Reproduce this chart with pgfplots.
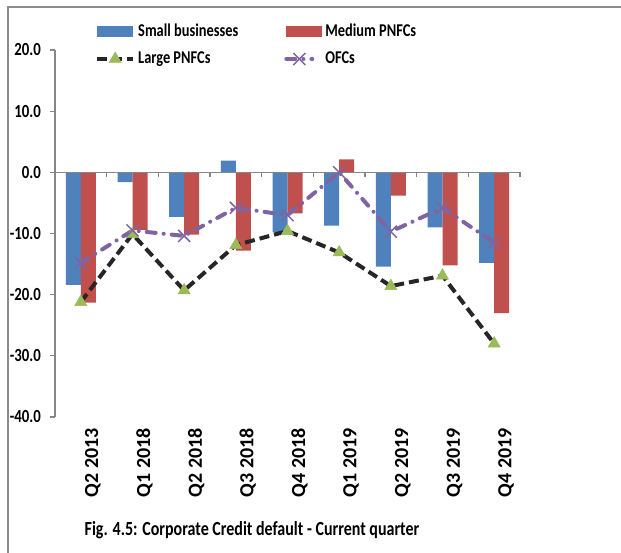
\documentclass[border=0pt]{standalone}
\usepackage{fontspec}
\setmainfont{Carlito}[FakeStretch=0.8]
\newfontfamily\xlabfont{Carlito}
\usepackage{pgfplots}
\pgfplotsset{compat=1.18}
\definecolor{cblue}{HTML}{4F81BD}
\definecolor{cred}{HTML}{C0504D}
\definecolor{cgreen}{HTML}{9BBB59}
\definecolor{cpurple}{HTML}{8064A2}
\definecolor{cblack}{HTML}{262626}
\definecolor{axisgray}{HTML}{868686}
\definecolor{framegray}{HTML}{8C8C8C}
\pgfplotsset{
  barleg/.style={legend image code/.code={\fill[#1] (0pt,-5.5pt) rectangle (36pt,5.5pt);}},
  lineleg/.style={legend image code/.code={
    \draw[##1, mark=none] (0pt,0pt) -- (#1,0pt);
    \draw[##1, only marks] plot coordinates {(0.5*#1,0pt)};}},
}
\begin{document}
\fontsize{18pt}{21pt}\selectfont\bfseries
\begin{tikzpicture}[x=1pt,y=1pt]
\useasboundingbox (0,0) rectangle (621,553);
\draw[framegray,line width=2pt] (8,0) -- (8,546) -- (621,546);
\begin{axis}[
  at={(55pt,136pt)}, anchor=south west,
  scale only axis, width=465pt, height=367pt,
  xmin=-0.5, xmax=8.5, ymin=-40, ymax=20,
  axis lines=left,
  axis line style={-, draw=axisgray, line width=1.2pt},
  x axis line style={draw=none},
  tick align=outside,
  major tick length=5pt,
  ytick={-40,-30,-20,-10,0,10,20},
  y tick style={draw=axisgray, line width=1.2pt},
  x tick style={draw=none},
  xtick={0,...,8},
  xticklabels={Q2 2013,Q1 2018,Q2 2018,Q3 2018,Q4 2018,Q1 2019,Q2 2019,Q3 2019,Q4 2019},
  xticklabel style={rotate=90, anchor=east, yshift=-12pt, font=\xlabfont\fontsize{20pt}{23pt}\selectfont\bfseries},
  yticklabel style={xshift=-3pt, font=\fontsize{18.5pt}{21pt}\selectfont\bfseries},
  /pgf/number format/assume math mode=true,
  yticklabel={\pgfmathprintnumber[fixed,fixed zerofill,precision=1]{\tick}},
  ybar=0pt, bar width=15pt,
  legend columns=2,
  legend cell align=left,
  legend style={at={(0.086,1.07)}, anchor=north west, draw=none, fill=none,
    inner sep=0pt, row sep=12pt,
    font=\fontsize{18pt}{21pt}\selectfont\bfseries,
    nodes={inner sep=0pt, text height=12pt, text depth=3pt},
    /tikz/every odd column/.append style={column sep=3pt},
    /tikz/every even column/.append style={column sep=46pt}},
  clip=false,
]
\addplot[fill=cblue, draw=none, barleg=cblue]
  coordinates {(0,-18.4) (1,-1.6) (2,-7.3) (3,1.9) (4,-9.8) (5,-8.7) (6,-15.4) (7,-9.0) (8,-14.8)};
\addlegendentry{Small businesses}
\addplot[fill=cred, draw=none, barleg=cred]
  coordinates {(0,-21.3) (1,-9.4) (2,-10.2) (3,-12.8) (4,-6.7) (5,2.1) (6,-3.8) (7,-15.2) (8,-23.0)};
\addlegendentry{Medium PNFCs}
\draw[axisgray, line width=1.2pt] (axis cs:-0.5,0) -- (axis cs:8.5,0);
\pgfplotsinvokeforeach{-0.5,0.5,1.5,2.5,3.5,4.5,5.5,6.5,7.5,8.5}{
  \draw[axisgray, line width=1.2pt] (axis cs:#1,0) -- ([yshift=-5pt]axis cs:#1,0);
}
\addplot[sharp plot, cblack, line width=4pt, dash pattern=on 10pt off 5pt,
  mark=triangle*, mark size=7pt, mark options={solid, fill=cgreen, draw=cgreen, line width=0.5pt},
  lineleg=36pt]
  coordinates {(0,-21.2) (1,-10.1) (2,-19.3) (3,-11.9) (4,-9.6) (5,-13.1) (6,-18.6) (7,-16.9) (8,-28.0)};
\addlegendentry{Large PNFCs}
\addplot[sharp plot, cpurple, line width=4pt, line cap=round, dash pattern=on 9pt off 8pt on 0.1pt off 8pt,
  mark=x, mark size=8.5pt, mark options={solid, line width=1.5pt, line cap=butt},
  lineleg=26pt]
  coordinates {(0,-14.8) (1,-9.5) (2,-10.4) (3,-5.8) (4,-7.0) (5,0.0) (6,-9.7) (7,-5.8) (8,-11.5)};
\addlegendentry{OFCs}
\end{axis}
\node[anchor=center] at (252,23) {\fontsize{20pt}{23pt}\selectfont\bfseries Fig. 4.5: Corporate Credit default - Current quarter};
\end{tikzpicture}
\end{document}
